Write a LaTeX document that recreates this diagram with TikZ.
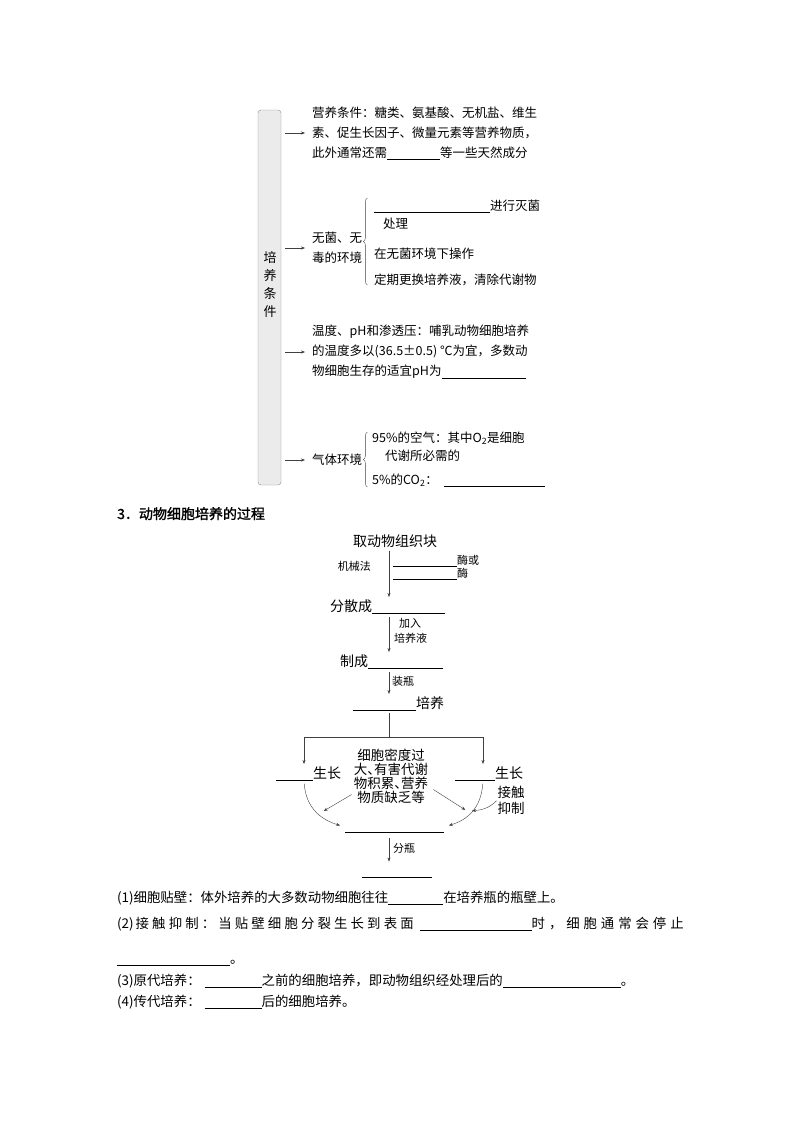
\documentclass[tikz,border=0pt]{standalone}
\usepackage{fontspec}
\setmainfont{Noto Sans CJK SC}
\newfontfamily\headfont[FakeBold=1.5]{Noto Sans CJK SC}
\usetikzlibrary{arrows.meta}
\usetikzlibrary{calc}
\usetikzlibrary{decorations.pathreplacing}
\newcommand{\blank}[1]{\rule[-2.5pt]{#1}{0.7pt}}
\newcommand{\dun}{\makebox[0.5em][l]{、}}
\newcommand{\spreadrest}[1]{\ifx#1\relax\else\hfil#1\expandafter\spreadrest\fi}
\newcommand{\spreadbox}[3]{\hbox to #1{#2\spreadrest#3\relax}}
\begin{document}
\begin{tikzpicture}[x=1pt,y=-1pt,
        every node/.style={inner sep=0pt},
        big/.style={font=\fontsize{12.5}{20}\selectfont,align=left},
        flow/.style={font=\fontsize{14}{16}\selectfont},
        tag/.style={font=\fontsize{11}{14}\selectfont},
        para/.style={font=\fontsize{13.4}{16}\selectfont,anchor=base west},
        arr/.style={-{Stealth[length=4pt,width=3pt]},black!75,shorten <=3pt,shorten >=2pt},
        curly/.style={decorate,decoration={brace,amplitude=4pt},black!75}]
                \useasboundingbox (0,0) rectangle (800,1132);
                \node[draw=black!45,fill=black!8,rounded corners=3pt,minimum width=23pt,minimum height=375pt] (Box) at (269.5,297.5) {};
                \node[font=\fontsize{13}{18}\selectfont,align=center] (BoxLabel) at (270,285) {培\\养\\条\\件};
                \node[big,anchor=west] (Nutr) at (312,133) {营养条件：糖类、氨基酸、无机盐、维生\\素、促生长因子、微量元素等营养物质，\\此外通常还需\blank{53pt}等一些天然成分};
                \node[big,anchor=west] (Sterile) at (312,248) {无菌、无\\毒的环境};
                \draw[curly] ($(Sterile.east)+(5,37)$) -- ($(Sterile.east)+(5,-50)$);
                \node[big,anchor=base west] (Heat) at (374,210) {\blank{116pt}进行灭菌};
                \node[big,anchor=base west] (HeatB) at (383,228) {处理};
                \node[big,anchor=base west] (Aseptic) at (374,258) {在无菌环境下操作};
                \node[big,anchor=base west] (Renew) at (374,284) {定期更换培养液，清除代谢物};
                \node[big,anchor=west] (Temp) at (312,352) {温度、pH和渗透压：哺乳动物细胞培养\\的温度多以(36.5±0.5) ℃为宜，多数动\\物细胞生存的适宜pH为\blank{84pt}};
                \node[big,anchor=west] (Gas) at (312,460) {气体环境};
                \draw[curly] ($(Gas.east)+(5,27)$) -- ($(Gas.east)+(5,-28)$);
                \node[big,anchor=base west] (Air) at (372,442) {95\%的空气：其中O\textsubscript{2}是细胞};
                \node[big,anchor=base west] (AirB) at (385,460) {代谢所必需的};
                \node[big,anchor=base west] (Carb) at (372,484) {5\%的CO\textsubscript{2}：\hspace{6pt}\blank{101pt}};
                \foreach \n in {Nutr,Sterile,Temp,Gas}
                    \draw[arr,shorten <=0pt,shorten >=0pt] ($(Box.east |- \n.west)+(4,0)$) -- ($(\n.west)+(-7,0)$);
                \node[anchor=base west,font=\fontsize{14}{16}\selectfont\headfont] (Title) at (117,519) {3．动物细胞培养的过程};
                \coordinate (Axis) at (389,0);
                \node[flow] (Take) at (395,541) {取动物组织块};
                \node[flow,anchor=base west] (Split) at (330,611) {分散成\blank{73pt}};
                \draw[arr] (Take.south -| Axis) -- (Split.north -| Axis);
                \node[tag,anchor=east] (Mech) at (371,566) {机械法};
                \node[tag,anchor=base west] (EnzA) at (393,564) {\blank{64pt}酶或};
                \node[tag,anchor=base west] (EnzB) at (393,577) {\blank{64pt}酶};
                \node[flow,anchor=base west] (Make) at (340,666) {制成\blank{75pt}};
                \draw[arr] (Split.south -| Axis) -- (Make.north -| Axis);
                \node[tag,anchor=base west] (Add) at (399,627) {加入};
                \node[tag,anchor=base west] (Medium) at (394,642) {培养液};
                \node[flow,anchor=base west] (Culture) at (353,708) {\blank{63pt}培养};
                \draw[arr] (Make.south -| Axis) -- (Culture.north -| Axis);
                \node[tag,anchor=base west] (Bottle) at (392,685) {装瓶};
                \coordinate (Fork) at (389,737);
                \coordinate (ForkL) at (304,737);
                \coordinate (ForkR) at (483,737);
                \draw[black!75,shorten <=2pt] (Culture.south -| Axis) -- (Fork);
                \draw[black!75] (ForkL) -- (ForkR);
                \node[flow,anchor=base west] (GrowL) at (276,778) {\blank{37pt}生长};
                \node[flow,anchor=base west] (GrowR) at (455,778) {\blank{40pt}生长};
                \draw[arr,shorten <=0pt] (ForkL) -- (GrowL.north -| ForkL);
                \draw[arr,shorten <=0pt] (ForkR) -- (GrowR.north -| ForkR);
                \node[font=\fontsize{13.5}{14}\selectfont,align=center] (Reason) at (391,776) {细胞密度过\\大\dun 有害代谢\\物积累\dun 营养\\物质缺乏等};
                \node[font=\fontsize{13.5}{16}\selectfont,align=left] (Contact) at (511,800) {接触\\抑制};
                \node[flow,anchor=base west] (Sub) at (345,830) {\strut\blank{99pt}};
                \node[flow,anchor=base west] (Passage) at (362,875) {\strut\blank{70pt}};
                \coordinate (MeetL) at (342,826);
                \coordinate (MeetR) at (447,826);
                \coordinate (HitL) at (322,812);
                \coordinate (HitR) at (467,811);
                \coordinate (HitC) at (470,811);
                \draw[arr] (GrowL.south -| ForkL) .. controls +(2,28) and +(-20,-6) .. (MeetL);
                \draw[arr] (GrowR.south -| ForkR) .. controls +(-2,28) and +(20,-6) .. (MeetR);
                \draw[arr,shorten <=0pt] ($(Reason.south west)+(-2,-9)$) -- (HitL);
                \draw[arr,shorten <=0pt] ($(Reason.south east)+(5,-14)$) -- (HitR);
                \draw[arr,shorten <=1pt] (Contact.west) .. controls +(-8,8) and +(12,-1) .. (HitC);
                \draw[arr] (Sub.south -| Axis) -- (Passage.north -| Axis);
                \node[tag,anchor=base west] (Divide) at (393,852) {分瓶};
                \node[para] (P1) at (117,902) {(1)细胞贴壁：体外培养的大多数动物细胞往往\blank{55pt}在培养瓶的瓶壁上。};
                \node[para] (P2) at (117,928) {(2)\hspace{2pt}\spreadbox{278pt}{接}{触抑制：当贴壁细胞分裂生长到表面}\hspace{6pt}\blank{112pt}\spreadbox{152pt}{时}{，细胞通常会停止}};
                \node[para] (P2b) at (117,963) {\blank{113pt}。};
                \node[para] (P3) at (117,985) {(3)原代培养：\hspace{4pt}\blank{57pt}之前的细胞培养，即动物组织经处理后的\blank{118pt}。};
                \node[para] (P4) at (117,1006) {(4)传代培养：\hspace{4pt}\blank{57pt}后的细胞培养。};
            \end{tikzpicture}
\end{document}
